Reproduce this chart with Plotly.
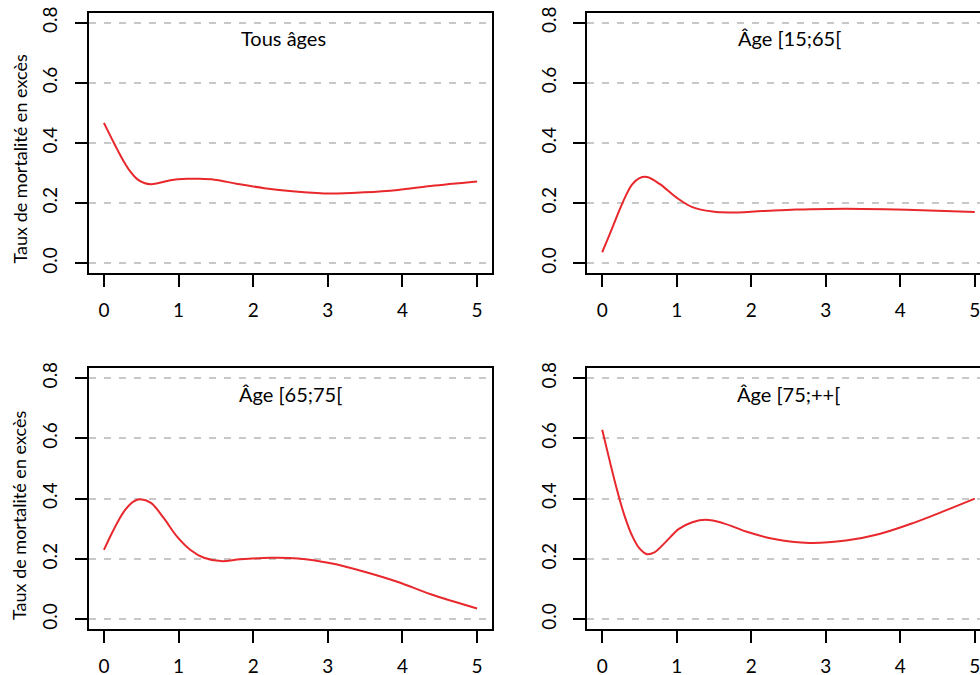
import plotly.graph_objects as go

# ---- data ----
panel_titles = ["Tous âges", "Âge [15;65[", "Âge [65;75[", "Âge [75;++["]
y_title = "Taux de mortalité en excès"

x_tous = [0, 0.134, 0.18, 0.27, 0.36, 0.45, 0.54, 0.63, 0.72, 0.89, 1.12, 1.25, 1.48, 1.79, 2.15, 2.6, 3.04, 3.49, 3.94, 4.38, 5.0]
y_tous = [0.467, 0.40, 0.378, 0.337, 0.303, 0.279, 0.267, 0.263, 0.266, 0.276, 0.281, 0.281, 0.278, 0.264, 0.25, 0.238, 0.232, 0.236, 0.244, 0.257, 0.272]

x_15_65 = [0, 0.1, 0.2, 0.3, 0.4, 0.5, 0.6, 0.77, 0.99, 1.21, 1.48, 1.71, 2.15, 2.6, 3.05, 3.49, 3.94, 4.39, 5.0]
y_15_65 = [0.037, 0.096, 0.158, 0.216, 0.262, 0.283, 0.287, 0.264, 0.22, 0.187, 0.172, 0.169, 0.174, 0.179, 0.181, 0.181, 0.179, 0.176, 0.171]

x_65_75 = [0, 0.13, 0.27, 0.40, 0.49, 0.63, 0.80, 0.98, 1.16, 1.34, 1.57, 1.83, 2.24, 2.6, 3.04, 3.49, 3.94, 4.38, 5.0]
y_65_75 = [0.23, 0.297, 0.358, 0.391, 0.398, 0.386, 0.336, 0.274, 0.23, 0.204, 0.193, 0.199, 0.204, 0.202, 0.186, 0.158, 0.124, 0.083, 0.036]

x_75 = [0, 0.1, 0.2, 0.3, 0.4, 0.5, 0.6, 0.7, 0.85, 1.03, 1.21, 1.39, 1.62, 1.93, 2.29, 2.78, 3.27, 3.72, 4.17, 4.61, 5.0]
y_75 = [0.628, 0.526, 0.428, 0.343, 0.278, 0.235, 0.216, 0.222, 0.256, 0.30, 0.322, 0.33, 0.319, 0.291, 0.267, 0.253, 0.261, 0.283, 0.319, 0.361, 0.40]

x_ticks = [0, 1, 2, 3, 4, 5]
y_ticks = [0.0, 0.2, 0.4, 0.6, 0.8]
y_tick_text = ["0.0", "0.2", "0.4", "0.6", "0.8"]

series = [(x_tous, y_tous), (x_15_65, y_15_65), (x_65_75, y_65_75), (x_75, y_75)]

# ---- layout geometry ----
W, H = 980, 675
FONT = "Lato"
RED = "rgb(232,40,44)"

# (x domain, y domain, x range, full box)
panels = [
    ([89 / W, 492 / W], [1 - 273 / H, 1 - 13 / H], [-0.2, 5.2], True),
    ([587.3 / W, 1.0], [1 - 273 / H, 1 - 13 / H], [-0.2, 5.07], False),
    ([89 / W, 492 / W], [1 - 629 / H, 1 - 368.3 / H], [-0.2, 5.2], True),
    ([587.3 / W, 1.0], [1 - 629 / H, 1 - 368.3 / H], [-0.2, 5.07], False),
]

fig = go.Figure()
layout = dict(
    width=W, height=H,
    margin=dict(l=0, r=0, t=0, b=0, autoexpand=False),
    paper_bgcolor="white", plot_bgcolor="white",
    showlegend=False,
    font=dict(family=FONT, size=18, color="black"),
)

for i, ((xd, yd, xr, full_box), (xs, ys)) in enumerate(zip(panels, series)):
    n = "" if i == 0 else str(i + 1)
    fig.add_trace(go.Scatter(
        x=xs, y=ys, mode="lines",
        line=dict(color=RED, width=2, shape="spline", smoothing=1.0),
        xaxis="x" + n, yaxis="y" + n, hoverinfo="skip",
    ))
    layout["xaxis" + n] = dict(
        domain=xd, range=xr, anchor="y" + n, automargin=False,
        tickvals=x_ticks, ticktext=[str(v) for v in x_ticks],
        ticks="outside", ticklen=12, tickwidth=2, tickcolor="black",
        showline=True, linewidth=2, linecolor="black", mirror=True,
        showgrid=False, zeroline=False,
        tickfont=dict(family=FONT, size=19, color="black"),
        ticklabelstandoff=7, ticklabeloverflow="allow",
    )
    layout["yaxis" + n] = dict(
        domain=yd, range=[-0.032, 0.832], anchor="x" + n, automargin=False,
        tickvals=y_ticks, ticktext=y_tick_text, tickangle=-90,
        ticks="outside", ticklen=12, tickwidth=2, tickcolor="black",
        showline=True, linewidth=2, linecolor="black", mirror=full_box,
        showgrid=True, gridcolor="rgb(200,200,200)", gridwidth=2, griddash="7px,8px",
        zeroline=False,
        tickfont=dict(family=FONT, size=19, color="black"),
        ticklabelstandoff=10, ticklabeloverflow="allow",
    )

fig.update_layout(**layout)

title_pos = [(283.5, 38), (789, 38), (290, 394), (788.5, 394)]
for t, (px, py) in zip(panel_titles, title_pos):
    fig.add_annotation(text=t, x=px / W, y=1 - py / H, xref="paper", yref="paper",
                       showarrow=False, xanchor="center", yanchor="middle",
                       font=dict(family=FONT, size=20, color="black"))

for py in (159.5, 516):
    fig.add_annotation(text=y_title, x=19 / W, y=1 - py / H, xref="paper", yref="paper",
                       showarrow=False, textangle=-90, xanchor="center", yanchor="middle",
                       font=dict(family=FONT, size=18, color="black"))

fig.write_html("out.html", config={"displayModeBar": False},
               post_script="document.body.style.margin='0';document.body.style.overflow='hidden';")
